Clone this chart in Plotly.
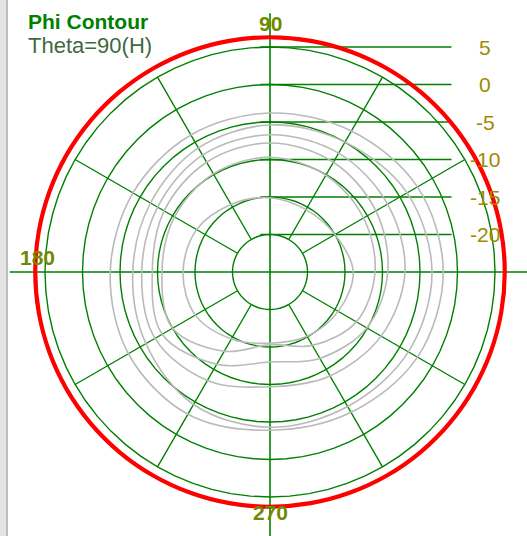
import plotly.graph_objects as go

# ---------------- data ----------------
phi_deg = [0, 30, 60, 90, 120, 150, 180, 210, 240, 270, 300, 330, 360]

# gray contour traces (gain in dB vs phi)
contour_1 = [-1.9, -2.3, -3.3, -3.8, -3.9, -3.9, -3.7, -3.2, -3.1, -3.9, -3.4, -2.3, -1.9]
contour_2 = [-3.4, -3.9, -5.0, -5.4, -5.9, -6.6, -6.7, -5.9, -4.6, -4.3, -4.3, -3.7, -3.4]
contour_3 = [-7.0, -6.9, -6.7, -6.7, -7.0, -7.7, -7.9, -7.3, -8.3, -9.7, -9.0, -7.9, -7.0]
contour_4 = [-9.3, -8.7, -8.1, -7.8, -8.1, -8.7, -9.3, -8.4, -10.8, -13.0, -11.7, -10.1, -9.3]
contour_5 = [-11.0, -10.6, -10.1, -9.7, -9.9, -10.3, -10.6, -10.0, -12.8, -15.3, -13.7, -11.7, -11.0]
contour_6 = [-13.9, -15.0, -15.4, -15.1, -14.6, -13.7, -13.4, -13.5, -14.7, -15.5, -15.1, -14.5, -13.9]
contours = [contour_1, contour_2, contour_3, contour_4, contour_5, contour_6]

# red trace: Theta=90(H)
red_phi = [0, 10, 20, 30, 40, 50, 60, 70, 80, 90, 100, 110, 120, 130, 140, 150, 160, 170, 180,
           190, 200, 210, 220, 230, 240, 250, 260, 270, 280, 290, 300, 310, 320, 330, 340, 350, 360]
red_gain = [6.3, 6.3, 6.3, 6.3, 6.3, 6.3, 6.3, 6.3, 6.3, 6.3, 6.3, 6.3, 6.3, 6.3, 6.3, 6.3, 6.3, 6.3, 6.3,
            6.3, 6.3, 6.3, 6.3, 6.3, 6.3, 6.3, 6.3, 6.3, 6.3, 6.3, 6.3, 6.3, 6.3, 6.3, 6.3, 6.3, 6.3]

# radial grid levels / tick labels
r_levels = [5, 0, -5, -10, -15, -20]
r_tick_labels = ["5", "0", "-5", "-10", "-15", "-20"]
spoke_angles = [30, 60, 120, 150, 210, 240, 300, 330]
angle_labels = ["90", "180", "270"]

R_MIN, R_MAX = -25, 7

GREEN = "#008000"
GRAY = "#bababa"
LABEL = "#a08a00"
FONT = "Liberation Sans, Arial, sans-serif"

W, H = 527, 536
CX, CY = 270, 272  # pixel center (from top-left)
S = 7.5            # px per dB

fig = go.Figure()

# ---------- cartesian overlay (units = dB offset from center) ----------
fig.add_trace(go.Scatter(x=[-34.7, 34.3], y=[0, 0], mode="lines",
                         line=dict(color=GREEN, width=1.6), hoverinfo="skip"))
fig.add_trace(go.Scatter(x=[0, 0], y=[34.5, -35.2], mode="lines",
                         line=dict(color=GREEN, width=1.6), hoverinfo="skip"))
lx, ly = [], []
for lv in r_levels:
    lx += [-1.3, 24.2, None]
    ly += [lv - R_MIN, lv - R_MIN, None]
fig.add_trace(go.Scatter(x=lx, y=ly, mode="lines",
                         line=dict(color=GREEN, width=1.6), hoverinfo="skip"))

# ---------- polar part ----------
circ_theta = list(range(0, 361, 5))
for lv in r_levels:
    fig.add_trace(go.Scatterpolar(r=[lv] * len(circ_theta), theta=circ_theta, mode="lines",
                                  line=dict(color=GREEN, width=1.4), hoverinfo="skip"))
sr, st = [], []
for a in spoke_angles:
    sr += [r_levels[-1], r_levels[0], None]
    st += [a, a, None]
fig.add_trace(go.Scatterpolar(r=sr, theta=st, mode="lines",
                              line=dict(color=GREEN, width=1.4), hoverinfo="skip"))

for c in contours:
    fig.add_trace(go.Scatterpolar(r=c, theta=phi_deg, mode="lines",
                                  line=dict(color=GRAY, width=1.6, shape="spline"),
                                  hoverinfo="skip"))

fig.add_trace(go.Scatterpolar(r=red_gain, theta=red_phi, mode="lines",
                              line=dict(color="#ff0000", width=4.2, shape="spline"),
                              hoverinfo="skip"))

RAD = (R_MAX - R_MIN) * S
fig.update_layout(
    width=W, height=H,
    margin=dict(l=0, r=0, t=0, b=0),
    paper_bgcolor="white", plot_bgcolor="rgba(0,0,0,0)",
    showlegend=False,
    xaxis=dict(visible=False, range=[-CX / S, (W - CX) / S], domain=[0, 1], fixedrange=True),
    yaxis=dict(visible=False, range=[-(H - CY) / S, CY / S], domain=[0, 1], fixedrange=True),
    polar=dict(
        domain=dict(x=[(CX - RAD) / W, (CX + RAD) / W],
                    y=[(H - CY - RAD) / H, (H - CY + RAD) / H]),
        bgcolor="rgba(0,0,0,0)",
        radialaxis=dict(range=[R_MIN, R_MAX], visible=False),
        angularaxis=dict(visible=False, rotation=0, direction="counterclockwise"),
    ),
)

ann = []
for lv, t in zip(r_levels, r_tick_labels):
    ann.append(dict(x=28.7, y=lv - R_MIN, xref="x", yref="y", text=t, showarrow=False,
                    xanchor="center", yanchor="middle",
                    font=dict(family=FONT, size=21, color=LABEL)))
ann.append(dict(x=0.1, y=33.2, xref="x", yref="y", text="<b>" + angle_labels[0] + "</b>",
                showarrow=False, xanchor="center", yanchor="middle",
                font=dict(family=FONT, size=21, color="#6f8a00")))
ann.append(dict(x=-31.0, y=2.0, xref="x", yref="y", text="<b>" + angle_labels[1] + "</b>",
                showarrow=False, xanchor="center", yanchor="middle",
                font=dict(family=FONT, size=21, color="#6f8a00")))
ann.append(dict(x=0.0, y=-32.0, xref="x", yref="y", text="<b>" + angle_labels[2] + "</b>",
                showarrow=False, xanchor="center", yanchor="middle",
                font=dict(family=FONT, size=21, color="#6f8a00")))
ann.append(dict(x=26 / W, y=1 - 21 / H, xref="paper", yref="paper", text="<b>Phi Contour</b>",
                showarrow=False, xanchor="left", yanchor="middle",
                font=dict(family=FONT, size=21, color=GREEN)))
ann.append(dict(x=26 / W, y=1 - 45 / H, xref="paper", yref="paper", text="Theta=90(H)",
                showarrow=False, xanchor="left", yanchor="middle",
                font=dict(family=FONT, size=22, color="#3f6a3f")))
fig.update_layout(annotations=ann)

fig.update_layout(shapes=[
    dict(type="rect", xref="paper", yref="paper", x0=0, x1=6 / W, y0=0, y1=1,
         fillcolor="#e4e4e4", line=dict(width=0), layer="below"),
    dict(type="line", xref="paper", yref="paper", x0=7 / W, x1=7 / W, y0=0, y1=1,
         line=dict(color="#a8a8a8", width=1.5), layer="below"),
])

fig.write_html("out.html", config={"displayModeBar": False, "staticPlot": True},
               post_script="document.body.style.margin='0px';document.body.style.overflow='hidden';")
